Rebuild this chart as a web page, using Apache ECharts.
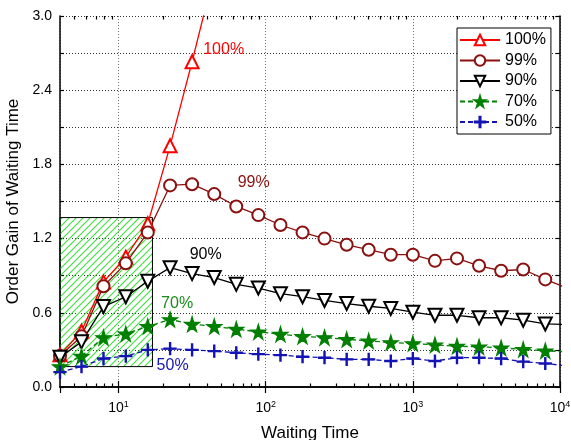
<!DOCTYPE html>
<html lang="en">
<head>
  <meta charset="UTF-8" />
  <title>Order Gain of Waiting Time</title>
  <script src="https://cdn.jsdelivr.net/npm/echarts@6.0.0/dist/echarts.min.js"></script>
  <style>
    body { margin: 0; background: #fff; }
    #chart { width: 571px; height: 440px; }
  </style>
</head>
<body>
  <div id="chart"></div>
  <script>
    // waiting times (log x axis), one per marker
    const waitTimes = [4, 5.6, 7.9, 11.2, 15.8, 22.4, 31.6, 44.7, 63.1, 89.1, 126, 178, 251, 355, 501, 708,
      1000, 1413, 1995, 2818, 3981, 5623, 7943, 11220];
    const gain100 = [0.26, 0.45, 0.85, 1.05, 1.32, 1.95, 2.63, 3.35];
    const gain99 = [0.25, 0.41, 0.815, 1.0, 1.25, 1.63, 1.64, 1.56, 1.46, 1.39, 1.31, 1.25, 1.2, 1.15, 1.11, 1.07,
      1.07, 1.02, 1.04, 0.98, 0.94, 0.95, 0.87, 0.8];
    const gain90 = [0.24, 0.365, 0.65, 0.73, 0.855, 0.965, 0.917, 0.885, 0.83, 0.8, 0.755, 0.73, 0.7, 0.675, 0.653, 0.635,
      0.605, 0.58, 0.58, 0.56, 0.56, 0.54, 0.51, 0.505];
    const gain70 = [0.165, 0.25, 0.4, 0.43, 0.49, 0.546, 0.508, 0.49, 0.468, 0.446, 0.427, 0.41, 0.4, 0.385, 0.373, 0.36,
      0.352, 0.34, 0.33, 0.325, 0.317, 0.304, 0.293, 0.285];
    const gain50 = [0.12, 0.165, 0.23, 0.25, 0.3, 0.31, 0.3, 0.29, 0.277, 0.266, 0.258, 0.245, 0.237, 0.223, 0.223, 0.21,
      0.23, 0.21, 0.237, 0.237, 0.23, 0.205, 0.19, 0.17];
    const seriesNames = ['100%', '99%', '90%', '70%', '50%'];
    const labelSpots = [[51.8, 2.73], [82.8, 1.656], [39.1, 1.07], [25, 0.675], [23.3, 0.17]];
    const hatchBox = [[4, 0.165], [17, 1.37]];
    const minorTicks = [5, 6, 7, 8, 9, 20, 30, 40, 50, 60, 70, 80, 90, 200, 300, 400, 500, 600, 700, 800, 900,
      2000, 3000, 4000, 5000, 6000, 7000, 8000, 9000];

    const font = "'Liberation Sans', Arial, sans-serif";
    const star = 'path://M50,0L61,35L98,35L68,57L79,91L50,70L21,91L32,57L2,35L39,35Z';
    const plus = 'path://M9,0H11V9H20V11H11V20H9V11H0V9H9Z';

    // green diagonal hatch for the shaded box
    const hatch = document.createElement('canvas');
    hatch.width = 7; hatch.height = 7;
    const g = hatch.getContext('2d');
    g.strokeStyle = '#3de03d'; g.lineWidth = 1.1;
    g.beginPath();
    g.moveTo(0, 7); g.lineTo(7, 0);
    g.moveTo(-1, 1); g.lineTo(1, -1);
    g.moveTo(6, 8); g.lineTo(8, 6);
    g.stroke();

    function pairs(ys) { return ys.map((y, i) => [waitTimes[i], y]); }

    function tag(i, color) {
      return {
        symbol: 'circle', symbolSize: 0, silent: true,
        label: { show: true, position: 'inside', formatter: seriesNames[i], color, fontSize: 16, fontFamily: font },
        data: [{ coord: labelSpots[i] }]
      };
    }

    function xAxisBase(pos, ticks, len, withLine) {
      return {
        type: 'log', logBase: 10, min: 4, max: 10000, position: pos,
        axisLine: { show: withLine, lineStyle: { color: '#000', width: 1.5 } },
        axisTick: ticks ? { show: true, inside: true, length: len, customValues: ticks, lineStyle: { color: '#000', width: 1.2 } }
                        : { show: true, inside: true, length: len, lineStyle: { color: '#000', width: 1.2 } },
        axisLabel: { show: false },
        splitLine: { show: false }
      };
    }

    const bottom = xAxisBase('bottom', null, 6, true);
    bottom.axisLabel = {
      show: true, showMinLabel: false, margin: 13, color: '#000', fontFamily: font,
      formatter: v => '{b|10}{s|' + Math.round(Math.log10(v)) + '}',
      rich: {
        b: { fontSize: 14, fontFamily: font, color: '#000' },
        s: { fontSize: 9, fontFamily: font, color: '#000', padding: [0, 0, 8, 0] }
      }
    };
    bottom.splitLine = { show: true, lineStyle: { color: '#777', type: [1, 2], width: 1 } };
    bottom.name = 'Waiting Time';
    bottom.nameLocation = 'middle';
    bottom.nameGap = 38;
    bottom.nameTextStyle = { fontSize: 17, fontFamily: font, color: '#000' };

    const yBase = pos => ({
      type: 'value', min: 0, max: 3, interval: 0.3, position: pos,
      axisLine: { show: true, lineStyle: { color: '#000', width: 1.5 } },
      axisTick: { show: true, inside: true, length: 4, lineStyle: { color: '#000', width: 1.2 } },
      axisLabel: { show: false },
      splitLine: { show: false }
    });
    const left = yBase('left');
    left.axisLabel = {
      show: true, fontSize: 14, fontFamily: font, color: '#000', margin: 8,
      formatter: v => (Math.round(v * 10) % 6 === 0 ? v.toFixed(1) : '')
    };
    left.splitLine = { show: true, lineStyle: { color: '#333', type: [1, 2], width: 1 } };
    left.name = 'Order Gain of Waiting Time';
    left.nameLocation = 'middle';
    left.nameGap = 32;
    left.nameTextStyle = { fontSize: 17, fontFamily: font, color: '#000' };

    const lineSeries = (name, ys, color, symbol, size, dashed, extra) => Object.assign({
      name, type: 'line', data: pairs(ys), z: 3,
      symbol, symbolSize: size,
      lineStyle: { color, width: 1.3, type: dashed ? [5, 3] : 'solid' },
      itemStyle: { color, borderColor: color, borderWidth: 1.2 },
      emphasis: { disabled: true }
    }, extra || {});

    const chart = echarts.init(document.getElementById('chart'));
    chart.setOption({
      animation: false,
      grid: { left: 60, right: 11, top: 16, bottom: 53, outerBoundsMode: 'none' },
      legend: {
        data: seriesNames, orient: 'vertical', left: 457, top: 28,
        itemWidth: 40, itemHeight: 13, itemGap: 4.5,
        padding: [4, 5, 4, 2],
        borderColor: '#000', borderWidth: 1, backgroundColor: '#fff',
        textStyle: { fontSize: 16, fontFamily: font, color: '#000' }
      },
      xAxis: [
        bottom,
        xAxisBase('top', null, 6, true),
        xAxisBase('bottom', minorTicks, 3.5, false),
        xAxisBase('top', minorTicks, 3.5, false)
      ],
      yAxis: [left, yBase('right')],
      series: [
        {
          name: 'box', type: 'line', data: [], z: 1, silent: true,
          markArea: {
            silent: true,
            itemStyle: { color: { image: hatch, repeat: 'repeat' }, borderColor: '#000', borderWidth: 1 },
            data: [[{ coord: hatchBox[0] }, { coord: hatchBox[1] }]]
          }
        },
        lineSeries('100%', gain100, '#ff0000', 'emptyTriangle', 13, false, { markPoint: tag(0, '#ff0000') }),
        lineSeries('99%', gain99, '#8b1010', 'emptyCircle', 12, false, { markPoint: tag(1, '#8b1010') }),
        lineSeries('90%', gain90, '#000000', 'emptyTriangle', 13, false, { symbolRotate: 180, markPoint: tag(2, '#000000') }),
        lineSeries('70%', gain70, '#007f00', star, 15, true, { markPoint: tag(3, '#1a8c1a') }),
        lineSeries('50%', gain50, '#1414b4', plus, 12, true, { markPoint: tag(4, '#1414b4') })
      ]
    });
  </script>
</body>
</html>
